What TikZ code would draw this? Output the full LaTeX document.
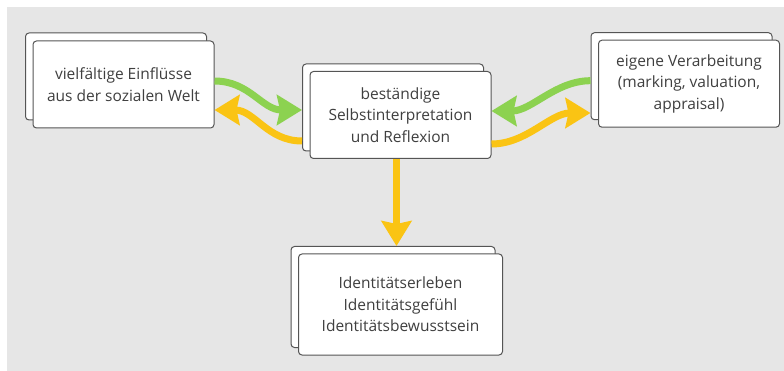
\documentclass[tikz,border=0pt]{standalone}
\usepackage{fontspec}
\setmainfont{Open Sans}
\usetikzlibrary{arrows.meta}
\definecolor{bggray}{HTML}{E6E6E6}
\definecolor{boxline}{HTML}{555555}
\definecolor{txt}{HTML}{3F3F3F}
\definecolor{agreen}{HTML}{8CD250}
\definecolor{ayellow}{HTML}{FAC414}
\begin{document}
\begin{tikzpicture}[x=1pt,y=-1pt,
  card/.style={draw=boxline, fill=white, line width=1pt, rounded corners=3.5pt,
    minimum width=181pt, minimum height=87pt, inner sep=0pt},
  widecard/.style={card, minimum width=204pt, minimum height=101pt},
  lbl/.style={text=txt, font=\fontsize{15.5}{21.5}\selectfont, align=center},
  flow/.style={line width=7pt, -{Stealth[length=25pt,width=30pt,inset=3pt]}}
]
\useasboundingbox (0,0) rectangle (784,371);
\fill[bggray] (7,7) rectangle (784,371);

% left
\node[card] (Lb) at (116,76.5) {};
\node[card, lbl] (Lf) at (123.5,84.5) {vielfältige Einflüsse\\aus der sozialen Welt};
% center
\node[card] (Cb) at (393,107.5) {};
\node[card, lbl] (Cf) at (400.5,115) {beständige\\Selbstinterpretation\\und Reflexion};
% right
\node[card] (Rb) at (681.5,76.2) {};
\node[card, lbl] (Rf) at (689,83.7) {eigene Verarbeitung\\(marking, valuation,\\appraisal)};
% bottom
\node[widecard] (Bb) at (393,297) {};
\node[widecard, lbl] (Bf) at (400.5,304.5) {Identitätserleben\\Identitätsgefühl\\Identitätsbewusstsein};

% connectors
\draw[flow, agreen] ([yshift=3.5pt]Lf.east) .. controls +(35,0) and +(-40,0) .. ([yshift=-2.5pt]Cb.west);
\draw[flow, ayellow] ([yshift=-33.5pt]Cb.west) .. controls +(-35,0) and +(40,0) .. ([yshift=-25.5pt]Lf.east);
\draw[flow, agreen] ([yshift=-4.5pt]Rb.west) .. controls +(-35,0) and +(40,0) .. ([yshift=4pt]Cf.east);
\draw[flow, ayellow] ([yshift=-29pt]Cf.east) .. controls +(35,0) and +(-40,0) .. ([yshift=-36.8pt]Rb.west);
\draw[flow, ayellow] ([xshift=-4pt]Cf.south) -- ([xshift=3.5pt]Bb.north);
\end{tikzpicture}
\end{document}
